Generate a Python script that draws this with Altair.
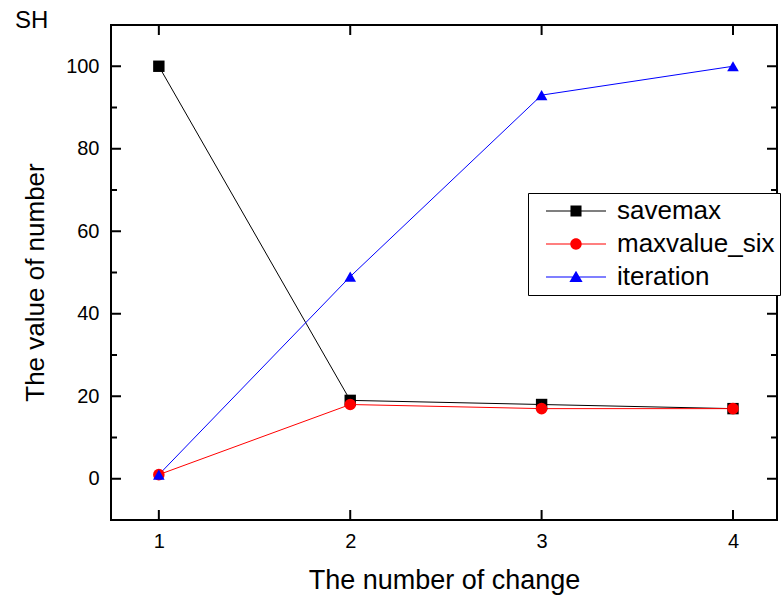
import altair as alt
import pandas as pd

changes = [1, 2, 3, 4]
savemax = [100, 19, 18, 17]
maxvalue_six = [1, 18, 17, 17]
iteration = [1, 49, 93, 100]
series_names = ["savemax", "maxvalue_six", "iteration"]
series_colors = ["#000000", "#ff0000", "#0000ff"]
series_shapes = ["square", "circle", "triangle-up"]
series_sizes = [130, 135, 260]
x_ticks = [1, 2, 3, 4]
y_major = [0, 20, 40, 60, 80, 100]
y_minor = [10, 30, 50, 70, 90]

FONT = "Liberation Sans"
W, H = 666, 495

rows = []
for name, vals in zip(series_names, [savemax, maxvalue_six, iteration]):
    for c, v in zip(changes, vals):
        rows.append({"change": c, "value": v, "series": name})
df = pd.DataFrame(rows)

line_rect = "M-5,-0.09 L5,-0.09 L5,0.09 L-5,0.09 Z "
legend_paths = [
    line_rect + "M-0.92,-0.92 L0.92,-0.92 L0.92,0.92 L-0.92,0.92 Z",
    line_rect + "M-0.95,0 A0.95,0.95 0 1 1 0.95,0 A0.95,0.95 0 1 1 -0.95,0 Z",
    line_rect + "M0,-1.05 L1.1,0.85 L-1.1,0.85 Z",
]

xscale = alt.Scale(domain=[0.75, 4.23], nice=False, zero=False)
yscale = alt.Scale(domain=[-10, 110], nice=False, zero=False)
cscale = alt.Scale(domain=series_names, range=series_colors)

xaxis = alt.Axis(values=x_ticks, ticks=False, domain=False, grid=False,
                 labelFontSize=20, labelFont=FONT, labelPadding=11, labelColor="black",
                 title="The number of change", titleFontSize=27, titleFont=FONT,
                 titleFontWeight="normal", titlePadding=16, titleColor="black")
yaxis = alt.Axis(values=y_major, ticks=False, domain=False, grid=False,
                 labelFontSize=20, labelFont=FONT, labelPadding=12, labelColor="black",
                 title="The value of number", titleFontSize=26, titleFont=FONT,
                 titleFontWeight="normal", titlePadding=17, titleColor="black",
                 titleY=257)

base = alt.Chart(df)

lines = base.mark_line(strokeWidth=1).encode(
    x=alt.X("change:Q", scale=xscale, axis=xaxis),
    y=alt.Y("value:Q", scale=yscale, axis=yaxis),
    color=alt.Color("series:N", scale=cscale, legend=None),
    detail="series:N",
)

points = base.mark_point(filled=True, opacity=1, strokeWidth=0).encode(
    x=alt.X("change:Q", scale=xscale, axis=xaxis),
    y=alt.Y("value:Q", scale=yscale, axis=yaxis),
    color=alt.Color("series:N", scale=cscale, legend=None),
    shape=alt.Shape("series:N", scale=alt.Scale(domain=series_names, range=series_shapes), legend=None),
    size=alt.Size("series:N", scale=alt.Scale(domain=series_names, range=series_sizes), legend=None),
)

pad_str = "\u00a0" * 14
leg = alt.Legend(title=None, labelExpr="datum.label + '" + pad_str + "'")
legend_layer = base.transform_filter("false").mark_point(filled=True, opacity=1, strokeWidth=0).encode(
    x=alt.X("change:Q", scale=xscale, axis=xaxis),
    y=alt.Y("value:Q", scale=yscale, axis=yaxis),
    color=alt.Color("series:N", scale=cscale, legend=leg),
    shape=alt.Shape("series:N", scale=alt.Scale(domain=series_names, range=legend_paths), legend=leg),
)

xt = pd.DataFrame({"change": x_ticks})
ytm = pd.DataFrame({"value": y_major})
ytn = pd.DataFrame({"value": y_minor})

tick_style = dict(color="black", strokeWidth=2)
xb = alt.Chart(xt).mark_rule(**tick_style).encode(
    x=alt.X("change:Q", scale=xscale, axis=xaxis), y=alt.value(H), y2=alt.value(H - 10))
xtp = alt.Chart(xt).mark_rule(**tick_style).encode(
    x=alt.X("change:Q", scale=xscale, axis=xaxis), y=alt.value(0), y2=alt.value(10))
yl = alt.Chart(ytm).mark_rule(**tick_style).encode(
    y=alt.Y("value:Q", scale=yscale, axis=yaxis), x=alt.value(0), x2=alt.value(10))
yr = alt.Chart(ytm).mark_rule(**tick_style).encode(
    y=alt.Y("value:Q", scale=yscale, axis=yaxis), x=alt.value(W), x2=alt.value(W - 10))
yln = alt.Chart(ytn).mark_rule(**tick_style).encode(
    y=alt.Y("value:Q", scale=yscale, axis=yaxis), x=alt.value(0), x2=alt.value(6))
yrn = alt.Chart(ytn).mark_rule(**tick_style).encode(
    y=alt.Y("value:Q", scale=yscale, axis=yaxis), x=alt.value(W), x2=alt.value(W - 6))

chart = alt.layer(lines, points, xb, xtp, yl, yr, yln, yrn, legend_layer).resolve_scale(
    color="independent", shape="independent", size="independent"
).properties(
    width=W, height=H,
    background="white",
    autosize=alt.AutoSizeParams(type="none"),
    padding={"left": 111, "top": 25, "right": 4, "bottom": 76},
    title=alt.TitleParams("SH", anchor="start", frame="group", dx=-96, dy=28, offset=0,
                          baseline="alphabetic", fontSize=24, fontWeight="normal",
                          font=FONT, color="black"),
).configure_view(
    stroke="black", strokeWidth=2
).configure_legend(
    orient="none", legendX=417, legendY=168,
    labelFontSize=26, labelFont=FONT, labelColor="black", labelLimit=500,
    symbolSize=144, symbolStrokeWidth=0, symbolOffset=30, labelOffset=28,
    strokeColor="black", fillColor="white", padding=5, rowPadding=7,
)

chart.save("out.html", embed_options={"renderer": "svg", "actions": False})
